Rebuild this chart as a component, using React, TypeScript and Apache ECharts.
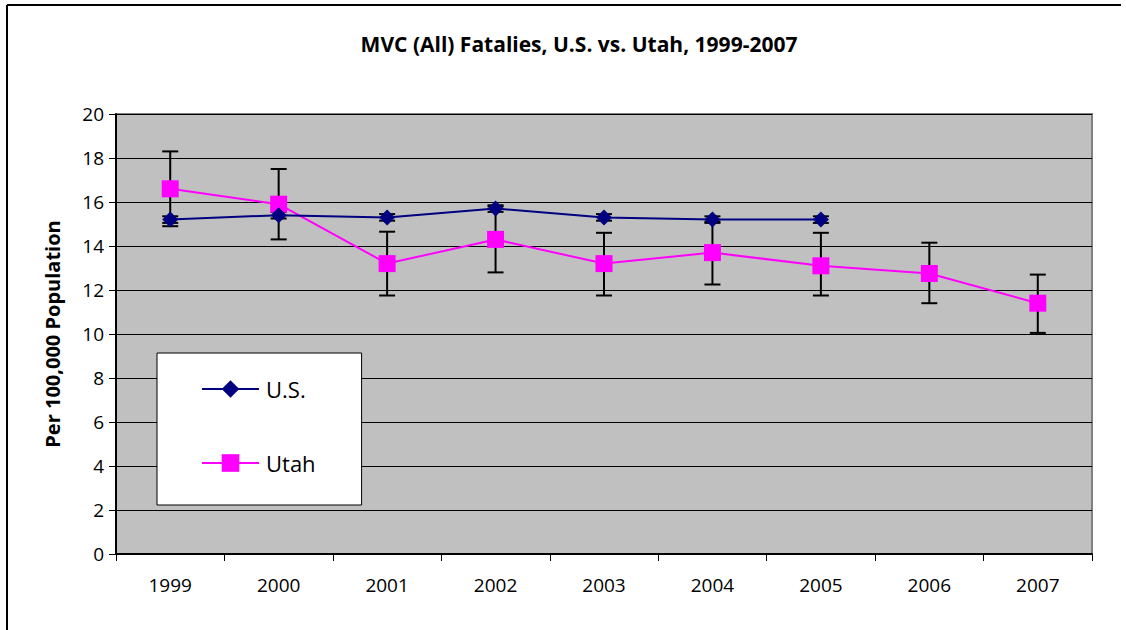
import React, { useEffect, useRef } from "react";
import * as echarts from "echarts";

const years = ["1999", "2000", "2001", "2002", "2003", "2004", "2005", "2006", "2007"];
const usValues = [15.2, 15.4, 15.3, 15.7, 15.3, 15.2, 15.2, null, null];
const usLow = [15.05, 15.25, 15.15, 15.55, 15.15, 15.05, 15.05, null, null];
const usHigh = [15.35, 15.55, 15.45, 15.85, 15.45, 15.35, 15.35, null, null];
const utahValues = [16.6, 15.9, 13.2, 14.3, 13.2, 13.7, 13.1, 12.75, 11.4];
const utahLow = [14.9, 14.3, 11.75, 12.8, 11.75, 12.25, 11.75, 11.4, 10.05];
const utahHigh = [18.3, 17.5, 14.65, 15.8, 14.6, 15.1, 14.6, 14.15, 12.7];

const FONT = "'Open Sans', 'DejaVu Sans', sans-serif";

function errorSeries(name: string, low: (number | null)[], high: (number | null)[]) {
  const data = low
    .map((l, i) => (l == null || high[i] == null ? null : [i, l, high[i]]))
    .filter((d) => d != null);
  return {
    type: "custom",
    name,
    z: 1,
    silent: true,
    data,
    renderItem: (params: any, api: any) => {
      const x = api.value(0);
      const lo = api.coord([x, api.value(1)]);
      const hi = api.coord([x, api.value(2)]);
      const cap = 8;
      const style = { stroke: "#000", lineWidth: 2 };
      return {
        type: "group",
        children: [
          { type: "line", shape: { x1: lo[0], y1: lo[1], x2: hi[0], y2: hi[1] }, style },
          { type: "line", shape: { x1: lo[0] - cap, y1: lo[1], x2: lo[0] + cap, y2: lo[1] }, style },
          { type: "line", shape: { x1: hi[0] - cap, y1: hi[1], x2: hi[0] + cap, y2: hi[1] }, style },
        ],
      };
    },
  };
}

export default function App() {
  const ref = useRef<HTMLDivElement>(null);
  useEffect(() => {
    document.body.style.margin = "0";
    const chart = echarts.init(ref.current!, null, { renderer: "svg" });
    chart.setOption({
      animation: false,
      backgroundColor: "#ffffff",
      textStyle: { fontFamily: FONT },
      title: {
        text: "MVC (All) Fatalies, U.S. vs. Utah, 1999-2007",
        left: 574,
        textAlign: "center",
        top: 28,
        textStyle: { fontFamily: FONT, fontWeight: "bold", fontSize: 21, color: "#000" },
      },
      graphic: [
        { type: "line", shape: { x1: 7, y1: 5, x2: 1121, y2: 5 }, style: { stroke: "#000", lineWidth: 2 } },
        { type: "line", shape: { x1: 7, y1: 5, x2: 7, y2: 630 }, style: { stroke: "#000", lineWidth: 2 } },
      ],
      legend: {
        orient: "vertical",
        left: 157,
        top: 353,
        padding: [25, 46, 31, 44],
        itemGap: 52,
        itemWidth: 57,
        itemHeight: 22,
        backgroundColor: "#ffffff",
        borderColor: "#000",
        borderWidth: 1,
        textStyle: { fontFamily: FONT, fontSize: 22, color: "#000", padding: [0, 0, 0, 2] },
        data: ["U.S.", "Utah"],
      },
      grid: {
        left: 116,
        top: 114,
        width: 976,
        height: 440,
        show: true,
        backgroundColor: "#c0c0c0",
        borderColor: "#808080",
        borderWidth: 2,
      },
      xAxis: {
        type: "category",
        data: years,
        boundaryGap: true,
        axisLine: { show: true, lineStyle: { color: "#000", width: 2 } },
        axisTick: { show: true, length: 7, lineStyle: { color: "#000" } },
        axisLabel: { fontFamily: FONT, fontSize: 19, color: "#000", margin: 21 },
      },
      yAxis: {
        type: "value",
        min: 0,
        max: 20,
        interval: 2,
        name: "Per 100,000 Population",
        nameLocation: "middle",
        nameGap: 54,
        nameTextStyle: { fontFamily: FONT, fontWeight: "bold", fontSize: 20, color: "#000" },
        axisLine: { show: true, lineStyle: { color: "#000", width: 2 } },
        axisTick: { show: true, length: 7, lineStyle: { color: "#000" } },
        axisLabel: { fontFamily: FONT, fontSize: 19, color: "#000", margin: 12 },
        splitLine: { show: true, lineStyle: { color: "#000", width: 1 } },
      },
      series: [
        errorSeries("US error", usLow, usHigh),
        errorSeries("Utah error", utahLow, utahHigh),
        {
          type: "line",
          name: "U.S.",
          data: usValues,
          z: 3,
          symbol: "diamond",
          symbolSize: 16,
          lineStyle: { color: "#000080", width: 2 },
          itemStyle: { color: "#000080" },
        },
        {
          type: "line",
          name: "Utah",
          data: utahValues,
          z: 2,
          symbol: "rect",
          symbolSize: 17,
          lineStyle: { color: "#ff00ff", width: 2 },
          itemStyle: { color: "#ff00ff" },
        },
      ],
    });
    return () => chart.dispose();
  }, []);
  return <div ref={ref} style={{ width: 1126, height: 630 }} />;
}
